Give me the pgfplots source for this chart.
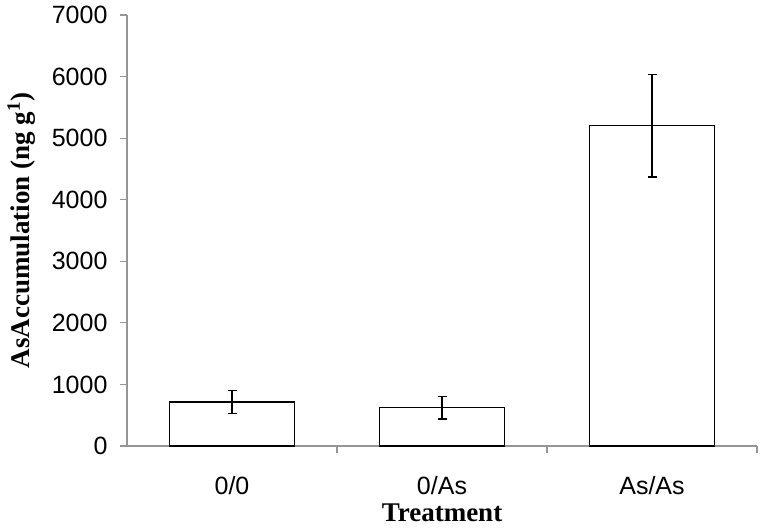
\documentclass[border=0pt]{standalone}
\usepackage{fontspec}
\setmainfont{Liberation Serif}
\newfontfamily\ticksans{Liberation Sans}
\usepackage{pgfplots}
\pgfplotsset{compat=1.18}

\definecolor{axisgray}{RGB}{150,150,150}

\begin{document}
\begin{tikzpicture}
\begin{axis}[
    scale only axis,
    width=630pt, height=431pt,
    ymin=0, ymax=7000,
    ytick={0,1000,...,7000},
    xmin=-0.5, xmax=2.5,
    xtick={0,1,2},
    xticklabels={0/0, 0/As, As/As},
    minor xtick={0.5,1.5,2.5},
    axis x line*=bottom,
    axis y line*=left,
    axis line style={axisgray, line width=1.2pt},
    every outer x axis line/.append style={-},
    every outer y axis line/.append style={-},
    tick align=outside,
    tick style={axisgray, line width=1.2pt},
    major tick length=7pt,
    minor tick length=7pt,
    major x tick style={draw=none},
    minor x tick style={axisgray, line width=1.2pt},
    ticklabel style={font=\fontsize{25}{28}\selectfont\ticksans},
    /pgf/number format/assume math mode=true,
    /pgf/number format/1000 sep={},
    yticklabel style={xshift=-9pt},
    xticklabel style={yshift=-20pt},
    xlabel={\textbf{Treatment}},
    ylabel={\textbf{AsAccumulation (ng g\textsuperscript{1})}},
    label style={font=\fontsize{27}{30}\selectfont},
    xlabel style={yshift=-2pt},
    ylabel style={yshift=10pt},
    clip=false,
]
\addplot[
    ybar, bar width=125pt,
    draw=black, fill=white, line width=1.2pt,
    error bars/.cd, y dir=both, y explicit,
    error bar style={line width=1.2pt, black},
    error mark options={rotate=90, mark size=4.5pt, line width=1.2pt, black},
] coordinates {
    (0, 715) +- (0, 190)
    (1, 625) +- (0, 185)
    (2, 5200) +- (0, 830)
};
\end{axis}
\pgfresetboundingbox
\path[use as bounding box] (current axis.south west) ++(-127pt,-85pt) rectangle ([shift={(8pt,15pt)}]current axis.north east);
\end{tikzpicture}
\end{document}
